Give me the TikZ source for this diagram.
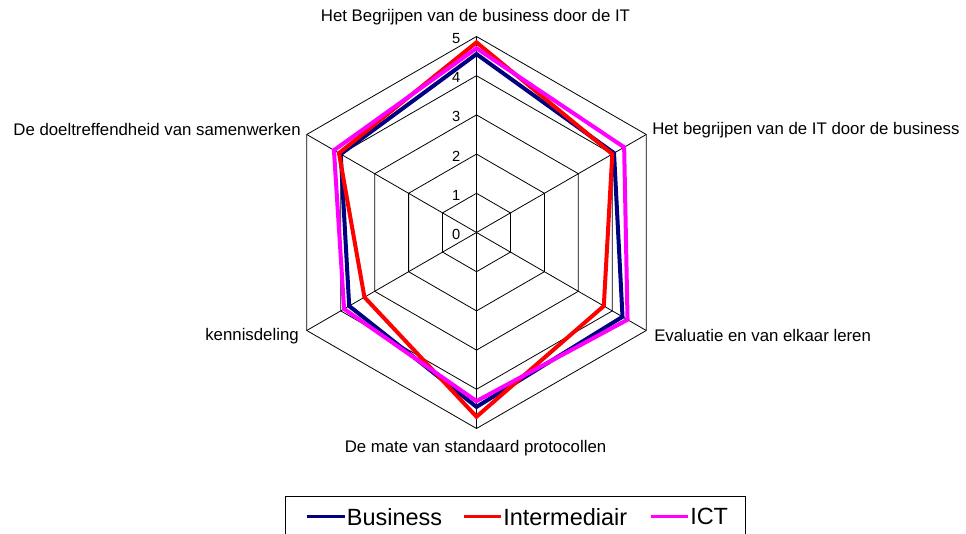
\documentclass[tikz,border=0pt]{standalone}
\usepackage{fontspec}
\setmainfont{Liberation Sans}
\usepackage{tikz}
\usetikzlibrary{positioning}

\definecolor{business}{RGB}{0,0,128}
\definecolor{intermediair}{RGB}{255,0,0}
\definecolor{ict}{RGB}{255,0,255}

\tikzset{
  gridline/.style={black, line width=0.6pt},
  axislabel/.style={font=\fontsize{12.6}{14}\selectfont, inner sep=0pt},
  ticklabel/.style={font=\fontsize{11}{13}\selectfont, inner sep=0pt, anchor=east},
  series/.style={line width=3pt, line join=miter},
  legendline/.style={line width=2.3pt},
  legendtext/.style={font=\fontsize{17.6}{20}\selectfont, inner sep=0pt, anchor=west},
}

\begin{document}
\begin{tikzpicture}[x=0.75pt,y=0.75pt]
  \clip (-476.5,-301.5) rectangle (489.5,232.5);
  \fill[white] (-476.5,-301.5) rectangle (489.5,232.5);

  % rings and spokes
  \foreach \r [evaluate=\r as \rr using \r*39.2] in {1,...,5}
    \draw[gridline] (90:\rr) -- (30:\rr) -- (-30:\rr) -- (-90:\rr) -- (-150:\rr) -- (150:\rr) -- cycle;
  \coordinate (c) at (0,0);
  \foreach \a/\n in {90/a1,30/a2,-30/a3,-90/a4,-150/a5,150/a6}{
    \coordinate (\n) at (\a:196);
    \draw[gridline] (c) -- (\n);
  }

  % scale
  \foreach \v in {0,...,5}
    \node[ticklabel] (t\v) at (-16,\v*39.2-2) {\v};

  % axis labels
  \node[axislabel] (l1) at (-1,215.5) {Het Begrijpen van de business door de IT};
  \node[axislabel, anchor=west] (l2) at (175.5,102) {Het begrijpen van de IT door de business};
  \node[axislabel, anchor=west] (l3) at (177.5,-102.5) {Evaluatie en van elkaar leren};
  \node[axislabel] (l4) at (-1,-215.5) {De mate van standaard protocollen};
  \node[axislabel, anchor=east] (l5) at (-177.5,-103.5) {kennisdeling};
  \node[axislabel, anchor=east] (l6) at (-175.5,102.5) {De doeltreffendheid van samenwerken};

  % data
  \draw[series, business] (90:178.4) -- (30:158.8) -- (-30:168.6) -- (-90:174.4) -- (-150:147) -- (150:156.8) -- cycle;
  \draw[series, intermediair] (90:190.1) -- (30:156.8) -- (-30:147) -- (-90:184.2) -- (-150:129.4) -- (150:158.8) -- cycle;
  \draw[series, ict] (90:184.2) -- (30:170.5) -- (-30:174.4) -- (-90:168.6) -- (-150:152.9) -- (150:164.6) -- cycle;

  % legend
  \draw[line width=0.75pt] (-190.8,-264.2) rectangle (268.5,-330);
  \node[legendtext] (legB) at (-129.8,-284.2) {Business};
  \node[legendtext] (legI) at (26.5,-284.2) {Intermediair};
  \node[legendtext] (legC) at (213.5,-284.2) {ICT};
  \coordinate (lb) at (-169.5,-284.2);
  \coordinate (li) at (-12.5,-284.2);
  \coordinate (lc) at (174.5,-284.2);
  \draw[legendline, business] (lb) -- ([xshift=-1.5pt]legB.west);
  \draw[legendline, intermediair] (li) -- ([xshift=-1.5pt]legI.west);
  \draw[legendline, ict] (lc) -- ([xshift=-1.5pt]legC.west);
\end{tikzpicture}
\end{document}
